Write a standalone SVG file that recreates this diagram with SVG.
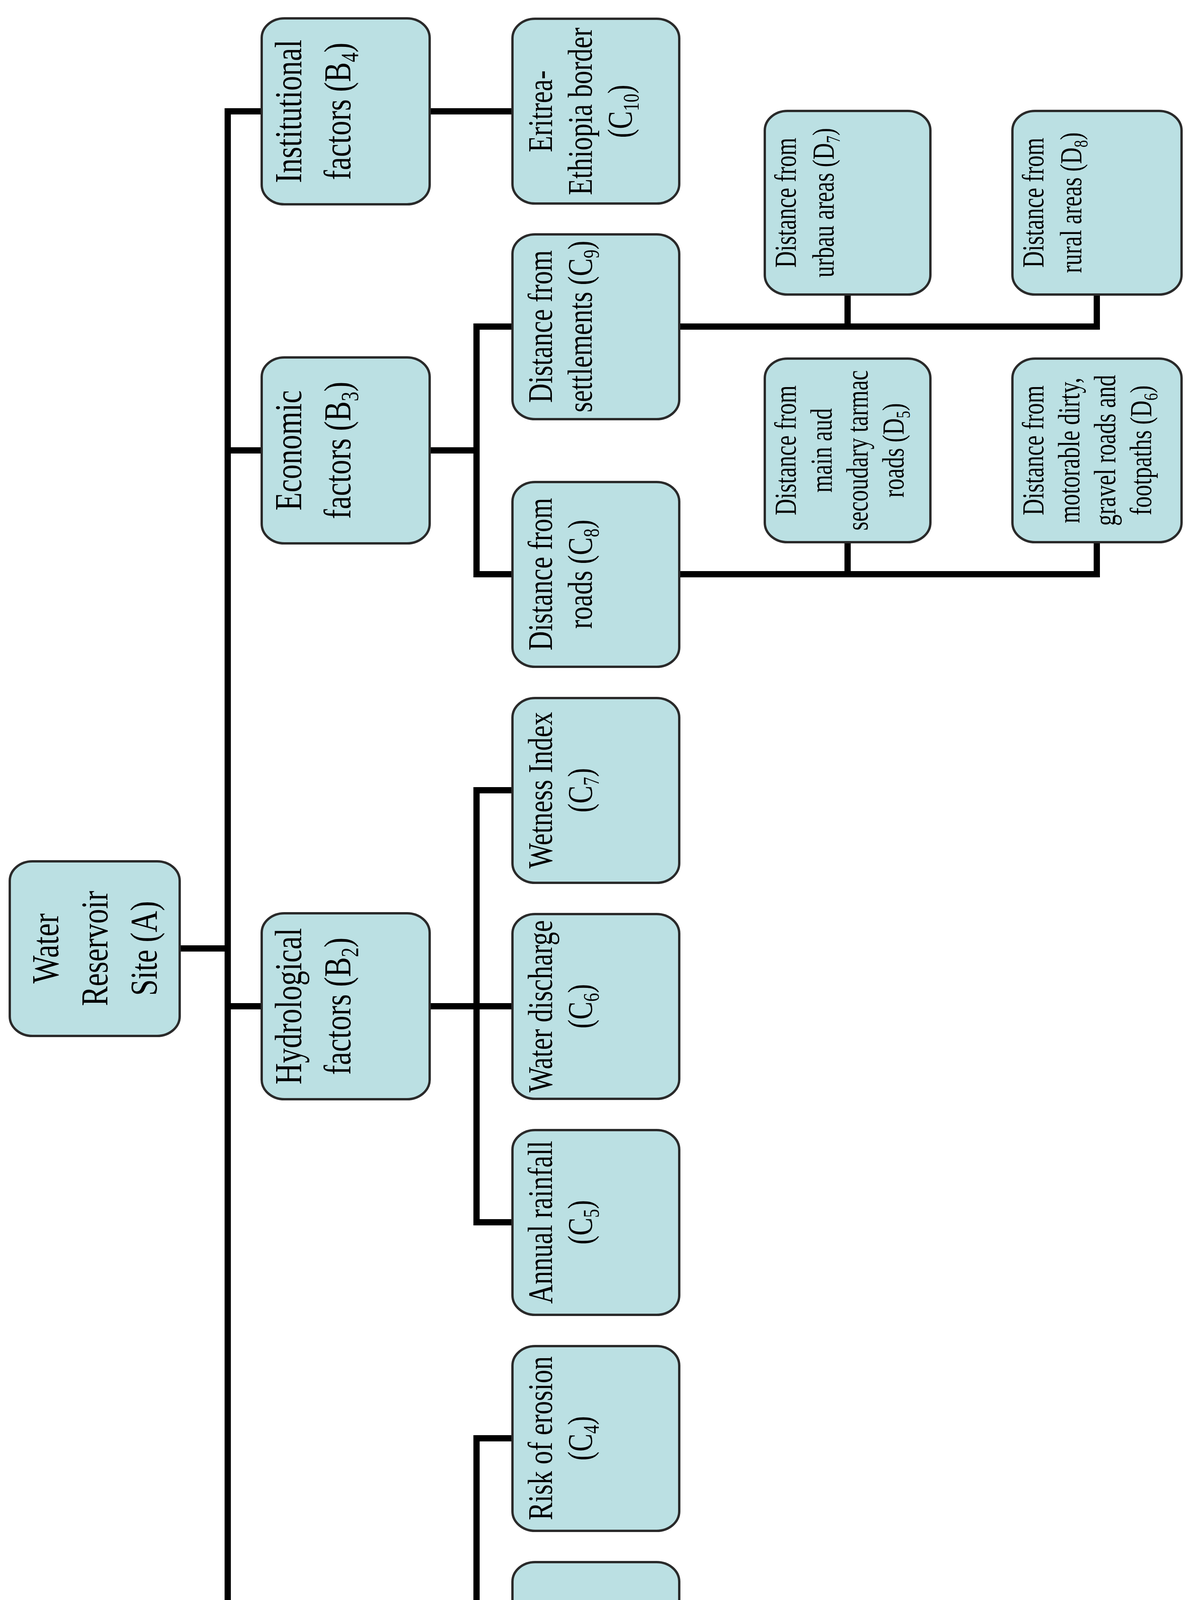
<svg xmlns="http://www.w3.org/2000/svg" width="3062" height="5713" viewBox="0 0 3062 5713">
<style>
.box{fill:#BBE0E3;stroke:#2a2a2a;stroke-width:6}
.conn{fill:none;stroke:#000;stroke-width:16;stroke-linejoin:miter;stroke-linecap:butt}
.t{font-family:"Liberation Serif","Times New Roman",serif;fill:#000;text-anchor:middle}
.tb{font-size:98px}
.tc{font-size:88px}
.td{font-size:79px}
.s{font-size:65%}
</style>
<rect width="3062" height="5713" fill="#fff"/>
<g id="connectors">
<path class="conn" d="M672 285H583V4551H672"/>
<path class="conn" d="M583 1153H672"/>
<path class="conn" d="M583 2576H672"/>
<path class="conn" d="M458 2428H583"/>
<path class="conn" d="M1098 285H1314"/>
<path class="conn" d="M1098 1153H1220"/>
<path class="conn" d="M1314 836H1220V1470H1314"/>
<path class="conn" d="M1098 2576H1314"/>
<path class="conn" d="M1314 2023H1220V3129H1314"/>
<path class="conn" d="M1098 4551H1220"/>
<path class="conn" d="M1314 3682H1220V5420H1314"/>
<path class="conn" d="M1220 4235H1314"/>
<path class="conn" d="M1220 4788H1314"/>
<path class="conn" d="M1737 836H2808V752"/>
<path class="conn" d="M2170 836V752"/>
<path class="conn" d="M1737 1470H2808V1386"/>
<path class="conn" d="M2170 1470V1386"/>
<path class="conn" d="M1737 4788H2808V4704"/>
<path class="conn" d="M2170 4788V4704"/>
<path class="conn" d="M1737 5420H2808V5336"/>
<path class="conn" d="M2170 5420V5336"/>
</g>
<g id="A">
<rect class="box" x="25" y="2205" width="435" height="447" rx="58" ry="50"/>
<text class="t tb" transform="translate(149,2428) rotate(-90) scale(0.775,1)"><tspan x="0" dy="0">Water</tspan><tspan x="0" dy="126">Reservoir</tspan><tspan x="0" dy="126">Site (A)</tspan></text>
</g>
<g id="B4">
<rect class="box" x="670" y="47" width="430" height="476" rx="58" ry="50"/>
<text class="t tb" transform="translate(771,285) rotate(-90) scale(0.775,1)"><tspan x="0">Institutional</tspan><tspan x="0" dy="126">factors (B<tspan class="s" dy="20">4</tspan><tspan dy="-20">)</tspan></tspan></text>
</g>
<g id="B3">
<rect class="box" x="670" y="915" width="430" height="476" rx="58" ry="50"/>
<text class="t tb" transform="translate(771,1153) rotate(-90) scale(0.775,1)"><tspan x="0">Economic</tspan><tspan x="0" dy="126">factors (B<tspan class="s" dy="20">3</tspan><tspan dy="-20">)</tspan></tspan></text>
</g>
<g id="B2">
<rect class="box" x="670" y="2338" width="430" height="476" rx="58" ry="50"/>
<text class="t tb" transform="translate(771,2576) rotate(-90) scale(0.775,1)"><tspan x="0">Hydrological</tspan><tspan x="0" dy="126">factors (B<tspan class="s" dy="20">2</tspan><tspan dy="-20">)</tspan></tspan></text>
</g>
<g id="B1">
<rect class="box" x="670" y="4313" width="430" height="476" rx="58" ry="50"/>
<text class="t tb" transform="translate(771,4551) rotate(-90) scale(0.775,1)"><tspan x="0">Environment</tspan><tspan x="0" dy="126">factors (B<tspan class="s" dy="20">1</tspan><tspan dy="-20">)</tspan></tspan></text>
</g>
<g id="C10">
<rect class="box" x="1312" y="48" width="427" height="473" rx="58" ry="50"/>
<text class="t tc" transform="translate(1413,285) rotate(-90) scale(0.78,1)"><tspan x="0">Eritrea-</tspan><tspan x="0" dy="102">Ethiopia border</tspan><tspan x="0" dy="102">(C<tspan class="s" dy="18">10</tspan><tspan dy="-18">)</tspan></tspan></text>
</g>
<g id="C9">
<rect class="box" x="1312" y="600" width="427" height="473" rx="58" ry="50"/>
<text class="t tc" transform="translate(1413,836) rotate(-90) scale(0.78,1)"><tspan x="0">Distance from</tspan><tspan x="0" dy="102">settlements (C<tspan class="s" dy="18">9</tspan><tspan dy="-18">)</tspan></tspan></text>
</g>
<g id="C8">
<rect class="box" x="1312" y="1234" width="427" height="473" rx="58" ry="50"/>
<text class="t tc" transform="translate(1413,1470) rotate(-90) scale(0.78,1)"><tspan x="0">Distance from</tspan><tspan x="0" dy="102">roads (C<tspan class="s" dy="18">8</tspan><tspan dy="-18">)</tspan></tspan></text>
</g>
<g id="C7">
<rect class="box" x="1312" y="1787" width="427" height="473" rx="58" ry="50"/>
<text class="t tc" transform="translate(1413,2023) rotate(-90) scale(0.78,1)"><tspan x="0">Wetness Index</tspan><tspan x="0" dy="102">(C<tspan class="s" dy="18">7</tspan><tspan dy="-18">)</tspan></tspan></text>
</g>
<g id="C6">
<rect class="box" x="1312" y="2340" width="427" height="473" rx="58" ry="50"/>
<text class="t tc" transform="translate(1413,2576) rotate(-90) scale(0.78,1)"><tspan x="0">Water discharge</tspan><tspan x="0" dy="102">(C<tspan class="s" dy="18">6</tspan><tspan dy="-18">)</tspan></tspan></text>
</g>
<g id="C5">
<rect class="box" x="1312" y="2893" width="427" height="473" rx="58" ry="50"/>
<text class="t tc" transform="translate(1413,3129) rotate(-90) scale(0.78,1)"><tspan x="0">Annual rainfall</tspan><tspan x="0" dy="102">(C<tspan class="s" dy="18">5</tspan><tspan dy="-18">)</tspan></tspan></text>
</g>
<g id="C4">
<rect class="box" x="1312" y="3446" width="427" height="473" rx="58" ry="50"/>
<text class="t tc" transform="translate(1413,3682) rotate(-90) scale(0.78,1)"><tspan x="0">Risk of erosion</tspan><tspan x="0" dy="102">(C<tspan class="s" dy="18">4</tspan><tspan dy="-18">)</tspan></tspan></text>
</g>
<g id="C3">
<rect class="box" x="1312" y="3999" width="427" height="473" rx="58" ry="50"/>
<text class="t tc" transform="translate(1413,4235) rotate(-90) scale(0.78,1)"><tspan x="0">Soil (C<tspan class="s" dy="18">3</tspan><tspan dy="-18">)</tspan></tspan></text>
</g>
<g id="C2">
<rect class="box" x="1312" y="4552" width="427" height="473" rx="58" ry="50"/>
<text class="t tc" transform="translate(1413,4788) rotate(-90) scale(0.78,1)"><tspan x="0">Geology (C<tspan class="s" dy="18">2</tspan><tspan dy="-18">)</tspan></tspan></text>
</g>
<g id="C1">
<rect class="box" x="1312" y="5184" width="427" height="473" rx="58" ry="50"/>
<text class="t tc" transform="translate(1413,5420) rotate(-90) scale(0.78,1)"><tspan x="0">Topography</tspan><tspan x="0" dy="102">(C<tspan class="s" dy="18">1</tspan><tspan dy="-18">)</tspan></tspan></text>
</g>
<g id="D7">
<rect class="box" x="1958" y="284" width="424" height="470" rx="58" ry="50"/>
<text class="t td" transform="translate(2037,519) rotate(-90) scale(0.74,1)"><tspan x="0">Distance from</tspan><tspan x="0" dy="97">urbau areas (D<tspan class="s" dy="16">7</tspan><tspan dy="-16">)</tspan></tspan></text>
</g>
<g id="D8">
<rect class="box" x="2592" y="284" width="433" height="470" rx="58" ry="50"/>
<text class="t td" transform="translate(2671,519) rotate(-90) scale(0.74,1)"><tspan x="0">Distance from</tspan><tspan x="0" dy="97">rural areas (D<tspan class="s" dy="16">8</tspan><tspan dy="-16">)</tspan></tspan></text>
</g>
<g id="D5">
<rect class="box" x="1958" y="918" width="424" height="470" rx="58" ry="50"/>
<text class="t td" transform="translate(2037,1153) rotate(-90) scale(0.74,1)"><tspan x="0">Distance from</tspan><tspan x="0" dy="92">main aud</tspan><tspan x="0" dy="92">secoudary tarmac</tspan><tspan x="0" dy="92">roads (D<tspan class="s" dy="16">5</tspan><tspan dy="-16">)</tspan></tspan></text>
</g>
<g id="D6">
<rect class="box" x="2592" y="918" width="433" height="470" rx="58" ry="50"/>
<text class="t td" transform="translate(2671,1153) rotate(-90) scale(0.74,1)"><tspan x="0">Distance from</tspan><tspan x="0" dy="92">motorable dirty,</tspan><tspan x="0" dy="92">gravel roads and</tspan><tspan x="0" dy="92">footpaths (D<tspan class="s" dy="16">6</tspan><tspan dy="-16">)</tspan></tspan></text>
</g>
<g id="D2">
<rect class="box" x="1958" y="4236" width="424" height="470" rx="58" ry="50"/>
<text class="t td" transform="translate(2037,4471) rotate(-90) scale(0.74,1)"><tspan x="0">Bedrock type (D<tspan class="s" dy="16">2</tspan><tspan dy="-16">)</tspan></tspan></text>
</g>
<g id="D4">
<rect class="box" x="2592" y="4236" width="433" height="470" rx="58" ry="50"/>
<text class="t td" transform="translate(2671,4471) rotate(-90) scale(0.74,1)"><tspan x="0">Distance from</tspan><tspan x="0" dy="97">fault lines (D<tspan class="s" dy="16">4</tspan><tspan dy="-16">)</tspan></tspan></text>
</g>
<g id="D1">
<rect class="box" x="1958" y="4868" width="424" height="470" rx="58" ry="50"/>
<text class="t td" transform="translate(2037,5103) rotate(-90) scale(0.74,1)"><tspan x="0">Slope (D<tspan class="s" dy="16">1</tspan><tspan dy="-16">)</tspan></tspan></text>
</g>
<g id="D3">
<rect class="box" x="2592" y="4868" width="433" height="470" rx="58" ry="50"/>
<text class="t td" transform="translate(2671,5103) rotate(-90) scale(0.74,1)"><tspan x="0">Elevation (D<tspan class="s" dy="16">3</tspan><tspan dy="-16">)</tspan></tspan></text>
</g>
</svg>
